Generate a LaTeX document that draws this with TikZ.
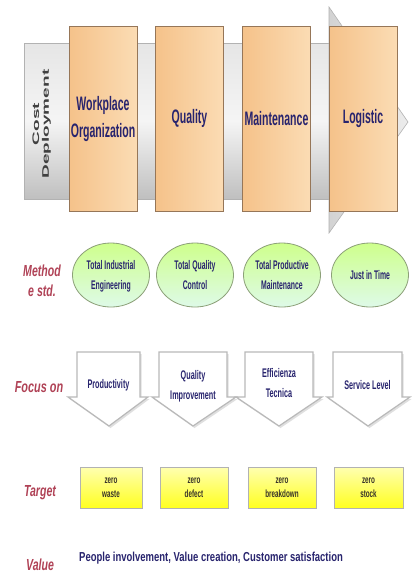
\documentclass[tikz,border=0pt]{standalone}
\usepackage{fontspec}
\setmainfont{Liberation Sans}
\usepackage{graphicx}
\usetikzlibrary{shapes.geometric}
\definecolor{navy}{RGB}{40,36,110}
\definecolor{lblred}{RGB}{176,66,86}
\definecolor{oboxline}{RGB}{150,118,88}
\definecolor{oboxl}{RGB}{245,194,138}
\definecolor{oboxr}{RGB}{251,220,180}
\definecolor{elltop}{RGB}{206,255,140}
\definecolor{ellbot}{RGB}{222,250,232}
\definecolor{ellline}{RGB}{140,160,120}
\definecolor{yeltop}{RGB}{255,255,175}
\definecolor{yelbot}{RGB}{255,255,30}
\definecolor{tgttext}{RGB}{55,50,40}
\newcommand{\sqz}[2]{\scalebox{#1}[1]{#2}}
\newcommand{\twol}[2]{\begin{tabular}{@{}c@{}}#1\\#2\end{tabular}}
\newcommand{\focusarrow}[5]{%
  \path[fshadow] (#1+1.5,354) -- (#2+1.5,354) -- (#2+1.5,399) -- (#4+1.5,399) -- (#5+1.5,428) -- (#3+1.5,399) -- (#1+1.5,399) -- cycle;
  \path[farrow] (#1,352) -- (#2,352) -- (#2,397) -- (#4,397) -- (#5,426) -- (#3,397) -- (#1,397) -- cycle;}
\begin{document}
\begin{tikzpicture}[x=1pt,y=-1pt,
  obox/.style={draw=oboxline, line width=0.8pt, left color=oboxl, right color=oboxr,
    minimum width=68, minimum height=185, inner sep=0pt, text=navy},
  ell/.style={ellipse, draw=ellline, line width=0.8pt, top color=elltop, bottom color=ellbot,
    minimum width=77, minimum height=64, inner sep=0pt, text=navy},
  ybox/.style={draw=gray!60, line width=0.8pt, top color=yeltop, bottom color=yelbot,
    minimum width=65, minimum height=41, inner sep=0pt, text=tgttext},
  farrow/.style={draw=gray!55, line width=1.2pt, fill=white},
  fshadow/.style={fill=gray!25},
  lbl/.style={text=lblred, inner sep=0pt},
  ftext/.style={text=navy, inner sep=0pt}]
\useasboundingbox (0,0) rectangle (414,582);
\fill[white] (0,0) rectangle (414,582);
% big gray arrow
\path[draw=gray!60, line width=0.6pt, top color=gray!20, bottom color=gray!50, middle color=gray!8]
  (24,43) rectangle (332,199);
\path[draw=gray!60, line width=0.6pt, left color=gray!35, right color=gray!15]
  (329,7) -- (408,122) -- (329,233) -- cycle;
\node[inner sep=0pt, text=black!75] (cd) at (42,124)
  {\fontsize{19}{19}\selectfont\bfseries\sqz{0.5}{\rotatebox{90}{\twol{Cost}{Deployment}}}};
% orange boxes
\node[obox] (wo) at (103,118.5) {\raisebox{-8pt}{\fontsize{19.5}{27}\selectfont\bfseries\sqz{0.54}{\twol{Workplace}{Organization}}}};
\node[obox] (qu) at (189.5,118.5) {\fontsize{19.5}{27}\selectfont\bfseries\sqz{0.54}{Quality}};
\node[obox] (ma) at (276.5,118.5) {\fontsize{19.5}{27}\selectfont\bfseries\sqz{0.54}{Maintenance}};
\node[obox] (lo) at (363,118.5) {\fontsize{19.5}{27}\selectfont\bfseries\sqz{0.54}{Logistic}};
% method row
\node[lbl] (lm) at (42,282) {\fontsize{16}{20}\selectfont\bfseries\itshape\sqz{0.66}{\twol{Method}{e std.}}};
\node[ell] (e1) at (111,275) {\fontsize{12.5}{20}\selectfont\bfseries\sqz{0.55}{\twol{Total Industrial}{Engineering}}};
\node[ell] (e2) at (195,275) {\fontsize{12.5}{20}\selectfont\bfseries\sqz{0.55}{\twol{Total Quality}{Control}}};
\node[ell] (e3) at (282,275) {\fontsize{12.5}{20}\selectfont\bfseries\sqz{0.55}{\twol{Total Productive}{Maintenance}}};
\node[ell] (e4) at (370,275) {\fontsize{12.5}{20}\selectfont\bfseries\sqz{0.55}{Just in Time}};
% focus row
\node[lbl] (lf) at (39,387) {\fontsize{16}{20}\selectfont\bfseries\itshape\sqz{0.68}{Focus on}};
\focusarrow{77}{140}{68}{148}{109}
\focusarrow{159}{227}{152}{236}{193}
\focusarrow{245}{313}{236}{322}{279}
\focusarrow{333}{402}{327}{410}{368}
\node[ftext] (f1) at (108.5,385) {\fontsize{12.5}{20}\selectfont\bfseries\sqz{0.58}{Productivity}};
\node[ftext] (f2) at (193,385) {\fontsize{12.5}{20}\selectfont\bfseries\sqz{0.58}{\twol{Quality}{Improvement}}};
\node[ftext] (f3) at (279,383) {\fontsize{12.5}{20}\selectfont\bfseries\sqz{0.58}{\twol{Efficienza}{Tecnica}}};
\node[ftext] (f4) at (367.5,385) {\fontsize{12.5}{20}\selectfont\bfseries\sqz{0.58}{Service Level}};
% target row
\node[lbl] (lt) at (40,493) {\fontsize{16}{20}\selectfont\bfseries\itshape\sqz{0.66}{Target}};
\node[ybox, minimum width=62] (t1) at (111,488) {\fontsize{10.5}{14}\selectfont\bfseries\sqz{0.6}{\twol{zero}{waste}}};
\node[ybox, minimum width=68] (t2) at (194,488) {\fontsize{10.5}{14}\selectfont\bfseries\sqz{0.6}{\twol{zero}{defect}}};
\node[ybox, minimum width=68] (t3) at (282,488) {\fontsize{10.5}{14}\selectfont\bfseries\sqz{0.6}{\twol{zero}{breakdown}}};
\node[ybox, minimum width=69] (t4) at (368.5,488) {\fontsize{10.5}{14}\selectfont\bfseries\sqz{0.6}{\twol{zero}{stock}}};
% value row
\node[lbl] (lv) at (40,565) {\fontsize{16}{20}\selectfont\bfseries\itshape\sqz{0.66}{Value}};
\node[ftext, anchor=west] (vt) at (79,558) {\fontsize{13}{15}\selectfont\bfseries\sqz{0.73}{People involvement, Value creation, Customer satisfaction}};
\end{tikzpicture}
\end{document}
